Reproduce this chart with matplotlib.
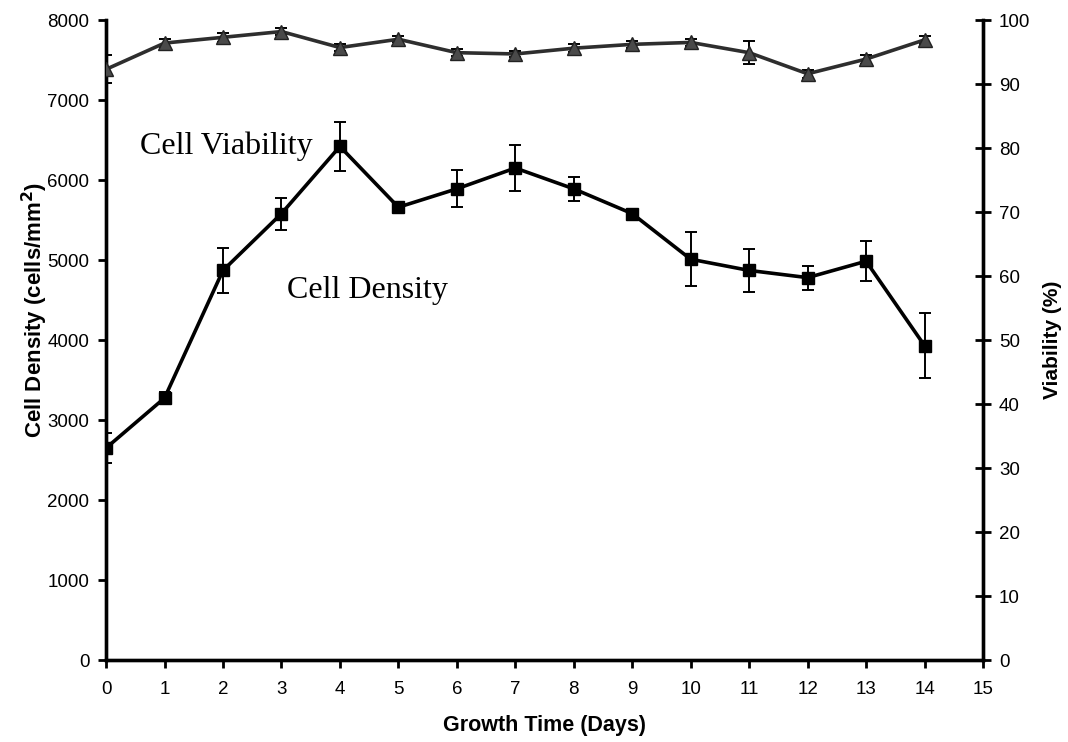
import numpy as np
import matplotlib.pyplot as plt

# Data
days = np.arange(0, 15)
density = [2650, 3275, 4870, 5580, 6420, 5660, 5890, 6150, 5890, 5580, 5010, 4870, 4780, 4985, 3930]
density_err = [190, 80, 280, 200, 310, 60, 230, 290, 150, 40, 340, 270, 150, 250, 405]
viability = [92.3, 96.4, 97.3, 98.2, 95.7, 97.0, 94.9, 94.7, 95.6, 96.2, 96.5, 94.9, 91.6, 93.9, 96.9]
viability_err = [2.2, 0.6, 0.7, 0.6, 0.5, 0.5, 0.5, 0.5, 0.6, 0.6, 0.5, 1.8, 0.6, 0.7, 0.6]

plt.rcParams['font.family'] = ['Liberation Sans', 'DejaVu Sans']

fig = plt.figure(figsize=(10.68, 7.42), dpi=100)
ax = fig.add_axes([0.0993, 0.1105, 0.8211, 0.8625])
ax2 = ax.twinx()

# cell density (left axis)
ax.errorbar(days, density, yerr=density_err, color='black', lw=2.6, marker='s',
            markersize=8.5, elinewidth=1.4, capsize=4, capthick=1.4, zorder=3)

# viability (right axis)
ax2.errorbar(days, viability, yerr=viability_err, color='#2e2e2e', lw=2.6, marker='^',
             markersize=10, markerfacecolor='#4a4a4a', markeredgecolor='#222222',
             elinewidth=1.4, ecolor='black', capsize=4, capthick=1.4, zorder=3)

ax.set_xlim(0, 15)
ax.set_ylim(0, 8000)
ax2.set_ylim(0, 100)
ax.set_xticks(range(0, 16))
ax.set_yticks(range(0, 8001, 1000))
ax2.set_yticks(range(0, 101, 10))

for a in (ax, ax2):
    a.spines['top'].set_visible(False)
    for s in ('left', 'right', 'bottom'):
        a.spines[s].set_linewidth(2.4)
ax.tick_params(axis='y', direction='out', length=6, width=2, labelsize=13.5, pad=6)
ax.tick_params(axis='x', direction='out', length=6, width=2, labelsize=13.5, pad=9)
ax2.tick_params(axis='y', direction='inout', length=11, width=2, labelsize=13.5, pad=6)

ax.set_xlabel('Growth Time (Days)', fontsize=15.5, fontweight='bold', labelpad=12)
ax.set_ylabel('Cell Density (cells/mm$^\\mathbf{2}$)', fontsize=16, fontweight='bold')
ax.yaxis.set_label_coords(-0.064, 0.547)
ax2.set_ylabel('Viability (%)', fontsize=15, fontweight='bold', labelpad=9)

ax.text(0.58, 6420, 'Cell Viability', family='Liberation Serif', fontsize=23, va='center', ha='left')
ax.text(3.1, 4620, 'Cell Density', family='Liberation Serif', fontsize=23, va='center', ha='left')

fig.savefig('out.png', dpi=100)
